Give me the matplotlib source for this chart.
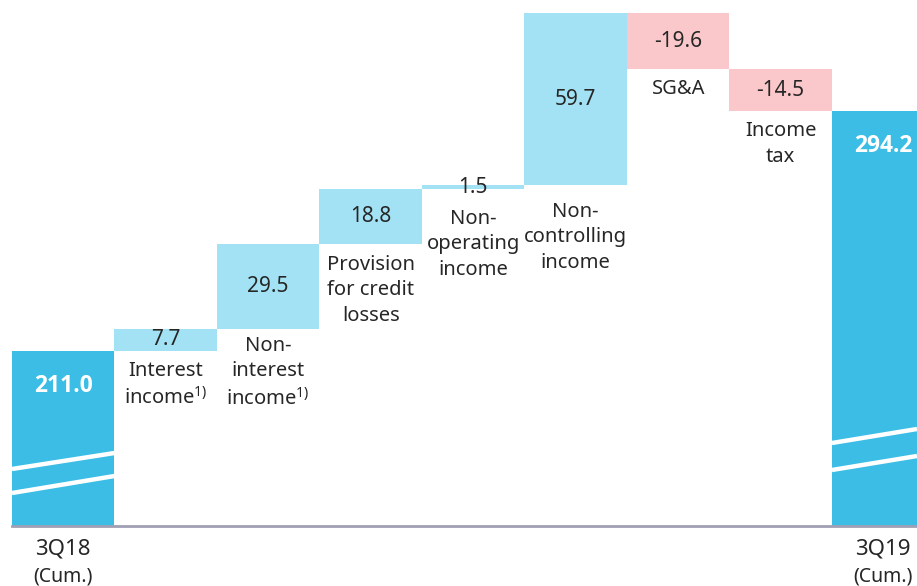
import matplotlib
matplotlib.use("Agg")
import matplotlib.pyplot as plt
import numpy as np

plt.rcParams['font.family'] = ['Noto Sans', 'DejaVu Sans']
plt.rcParams['mathtext.fontset'] = 'custom'
plt.rcParams['mathtext.rm'] = 'Noto Sans'
plt.rcParams['mathtext.it'] = 'Noto Sans'

# ---- data ----
step_names = ["3Q18", "Interest\nincome$^{\\mathrm{1)}}$", "Non-\ninterest\nincome$^{\\mathrm{1)}}$",
              "Provision\nfor credit\nlosses", "Non-\noperating\nincome", "Non-\ncontrolling\nincome",
              "SG&A", "Income\ntax", "3Q19"]
values = [211.0, 7.7, 29.5, 18.8, 1.5, 59.7, -19.6, -14.5, 294.2]
value_labels = ["211.0", "7.7", "29.5", "18.8", "1.5", "59.7", "-19.6", "-14.5", "294.2"]
is_total = [True, False, False, False, False, False, False, False, True]
total_ticks = ["3Q18\n(Cum.)", "3Q19\n(Cum.)"]

# style: extra downward offset (points) of each category label below its bar
label_shift = [0, 2, 0, 3, 9, 7, 1.5, 2, 0]

C_TOTAL = "#3BBDE6"
C_POS = "#A3E2F4"
C_NEG = "#FAC8CB"
TXT = "#262626"

W, H = 917, 586
fig = plt.figure(figsize=(W / 100, H / 100), dpi=100)
ax = fig.add_axes([12 / W, (H - 526) / H, (W - 12) / W, 526 / H])

ymin, ymax = 150.3, 332.7
ax.set_ylim(ymin, ymax)
ax.set_xlim(-0.5, 8.33)

x = np.arange(len(values))
running = 0.0
bottoms, heights, colors = [], [], []
for v, tot in zip(values, is_total):
    if tot:
        bottoms.append(0.0)
        heights.append(v)
        colors.append(C_TOTAL)
        running = v
    else:
        if v >= 0:
            bottoms.append(running)
            heights.append(v)
            colors.append(C_POS)
        else:
            bottoms.append(running + v)
            heights.append(-v)
            colors.append(C_NEG)
        running += v

ax.bar(x, heights, bottom=bottoms, width=1.0, color=colors, edgecolor='none', zorder=2)

# value labels and category labels
for i, (b, h, tot) in enumerate(zip(bottoms, heights, is_total)):
    top = b + h
    if tot:
        ax.annotate(value_labels[i], (x[i], top), xytext=(0, -25), textcoords='offset points',
                    ha='center', va='center', color='white', fontsize=16.5,
                    fontweight='bold', family=['Open Sans', 'DejaVu Sans'], zorder=4)
    else:
        ax.text(x[i], b + h / 2, value_labels[i], ha='center', va='center', color=TXT,
                fontsize=15, zorder=4)
        ax.annotate(step_names[i], (x[i], b), xytext=(0, -5 - label_shift[i]),
                    textcoords='offset points', ha='center', va='top', color=TXT,
                    fontsize=14.5, linespacing=1.37, zorder=4)

# x tick labels for totals
for i, lab in zip([0, 8], total_ticks):
    t1, t2 = lab.split("\n")
    ax.annotate(t1, (x[i], ymin), xytext=(0, -9), textcoords='offset points',
                ha='center', va='top', color=TXT, fontsize=16, annotation_clip=False)
    ax.annotate(t2, (x[i], ymin), xytext=(0, -29), textcoords='offset points',
                ha='center', va='top', color=TXT, fontsize=14, annotation_clip=False)

# axis break marks (white slanted lines) on total bars
def ypx(p):
    # pixel row -> data value
    return ymax - (p) / 526 * (ymax - ymin)

for (xl, xr, pairs) in [(-0.5, 0.5, [(469, 453), (493, 476)]),
                        (7.5, 8.33, [(443, 429), (470, 456)])]:
    for yl, yr in pairs:
        ax.plot([xl, xr], [ypx(yl), ypx(yr)], color='white', lw=3.2, zorder=3,
                solid_capstyle='butt')

ax.axhline(ymin, color='#A0A0B4', lw=2, zorder=5, clip_on=False)

for s in ax.spines.values():
    s.set_visible(False)
ax.set_xticks([])
ax.set_yticks([])

fig.savefig("out.png", dpi=100)
